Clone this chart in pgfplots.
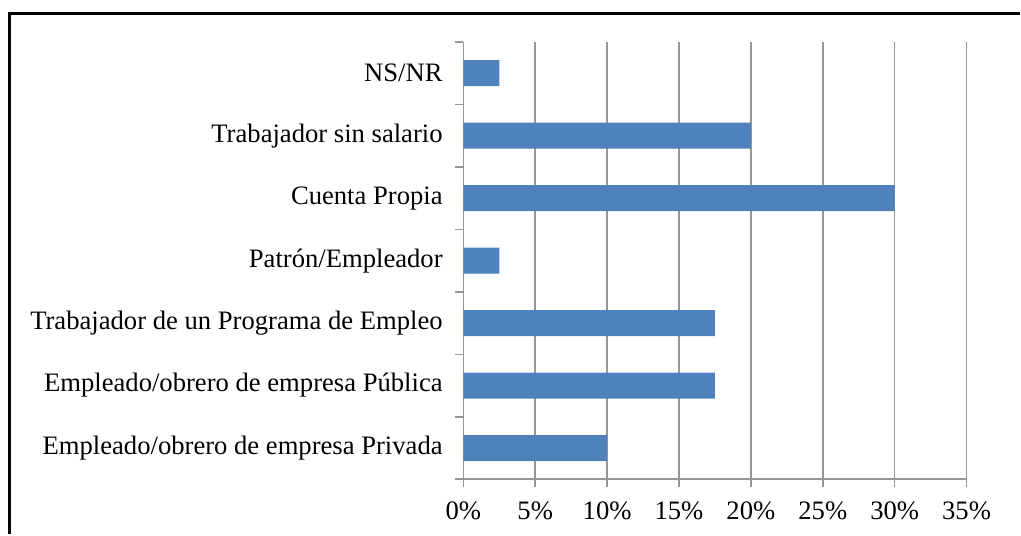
\documentclass[border=0pt]{standalone}
\usepackage{pgfplots}
\pgfplotsset{compat=1.18}
\usepackage{fontspec}
\setmainfont{Liberation Serif}
\definecolor{barblue}{HTML}{4F81BD}
\definecolor{gridgray}{HTML}{969696}
\begin{document}
\begin{tikzpicture}
\path (0pt,0pt) rectangle (765.75pt,401.25pt);
\draw[black,line width=2.25pt] (7.5pt,0pt) -- (7.5pt,391.1pt) -- (765.75pt,391.1pt);
\begin{axis}[
  at={(348pt,41.25pt)}, anchor=south west,
  scale only axis, width=378pt, height=328.5pt,
  xbar, bar width=19.5pt,
  xmin=0, xmax=35, ymin=-0.5, ymax=6.5,
  axis x line*=bottom, axis y line*=left,
  axis line style={draw=gridgray, line width=1.2pt, -},
  xtick={0,5,...,35},
  xticklabels={0\%,5\%,10\%,15\%,20\%,25\%,30\%,35\%},
  ytick={0,...,6},
  yticklabels={Empleado/obrero de empresa Privada,Empleado/obrero de empresa Pública,Trabajador de un Programa de Empleo,Patrón/Empleador,Cuenta Propia,Trabajador sin salario,NS/NR},
  minor ytick={-0.5,0.5,...,6.5},
  major y tick style={draw=none},
  minor tick length=6pt,
  major tick length=6pt,
  tick align=outside,
  tick style={draw=gridgray, line width=1.2pt},
  xmajorgrids, major grid style={draw=gridgray, line width=1.2pt},
  ticklabel style={font=\fontsize{20}{24}\selectfont, text=black},
  yticklabel style={xshift=-6pt},
  xticklabel style={yshift=-7pt},
  /pgf/number format/assume math mode=true,
  clip=false,
]
\addplot[fill=barblue, draw=none] coordinates {
  (10,0) (17.5,1) (17.5,2) (2.5,3) (30,4) (20,5) (2.5,6)
};
\end{axis}
\end{tikzpicture}
\end{document}
